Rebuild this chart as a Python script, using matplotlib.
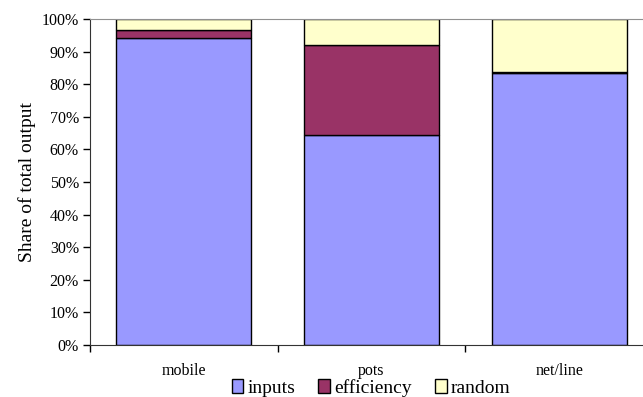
import matplotlib.pyplot as plt
import numpy as np

# shares of total output per segment (percent)
categories = ['mobile', 'pots', 'net/line']
inputs = [94.3, 64.3, 83.4]
efficiency = [2.2, 27.8, 0.4]
random_part = [3.5, 7.9, 16.2]

series = [('inputs', inputs, '#9999FF'),
          ('efficiency', efficiency, '#993366'),
          ('random', random_part, '#FFFFCC')]

plt.rcParams['font.family'] = ['Liberation Serif', 'DejaVu Serif']

fig = plt.figure(figsize=(6.43, 3.97), dpi=100)
# plot area runs slightly past the right edge of the figure
ax = fig.add_axes([90 / 643, 52 / 397, 563 / 643, 326 / 397])

x = np.arange(len(categories))
bottom = np.zeros(len(categories))
for name, vals, color in series:
    ax.bar(x, vals, width=0.72, bottom=bottom, color=color,
           edgecolor='black', linewidth=1.0, label=name)
    bottom += np.array(vals)

ax.set_xlim(-0.5, 2.5)
ax.set_ylim(0, 100)
ax.set_yticks(np.arange(0, 101, 10))
ax.set_yticklabels([f'{v}%' for v in range(0, 101, 10)])

# category names centred under the bars, ticks on the boundaries
ax.set_xticks([-0.5, 0.5, 1.5, 2.5])
ax.set_xticklabels([])
ax.set_xticks(x, minor=True)
ax.set_xticklabels(categories, minor=True)
ax.tick_params(axis='x', which='minor', length=0, pad=13, labelsize=11.5)
ax.tick_params(axis='x', which='major', length=5, width=1, direction='out')
ax.tick_params(axis='y', length=5, width=1, direction='out', labelsize=11.5, pad=3)

ax.spines['top'].set_color('#909090')
ax.spines['right'].set_visible(False)
ax.spines['left'].set_color('#333333')
ax.spines['bottom'].set_color('#333333')

ax.set_ylabel('Share of total output', fontsize=14, labelpad=4)

fig.legend(loc='center', bbox_to_anchor=(371 / 643, 1 - 388 / 397),
           ncol=3, frameon=False, fontsize=14, handlelength=0.6,
           handleheight=0.7, handletextpad=0.2, columnspacing=1.2,
           borderpad=0)

fig.savefig('out.png', dpi=100)
